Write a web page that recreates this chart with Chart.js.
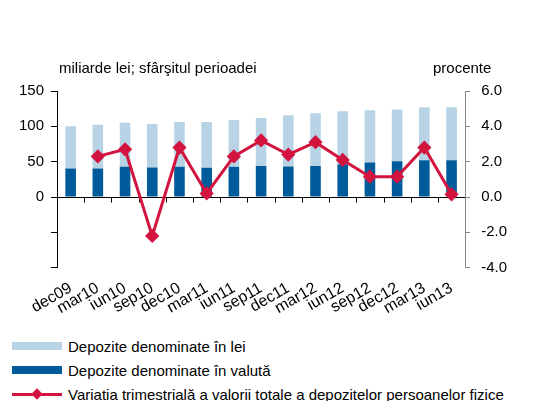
<!DOCTYPE html>
<html>
<head>
<meta charset="utf-8">
<script src="https://cdn.jsdelivr.net/npm/chart.js@4/dist/chart.umd.min.js"></script>
<style>
  body { margin: 0; background: #fff; font-family: Arial, "Liberation Sans", sans-serif; }
  #wrap { position: relative; width: 536px; height: 401px; overflow: hidden; }
  #box { position: absolute; left: 0; top: 0; width: 536px; height: 321px; }
  .ttl { position: absolute; top: 59px; font-size: 15px; color: #000; white-space: nowrap; }
  #legend { position: absolute; left: 12px; top: 334px; font-size: 15px; white-space: nowrap; }
  .item { height: 24px; display: flex; align-items: center; }
  .sw { width: 50px; height: 8px; margin-right: 6px; position: relative; }
  .ln { width: 50px; height: 3px; margin-right: 6px; position: relative; }
  .ln i { position: absolute; left: 21px; top: -3px; width: 8px; height: 8px; transform: rotate(45deg); }
</style>
</head>
<body>
<div id="wrap">
  <div id="box"><canvas id="c"></canvas></div>
  <div class="ttl" style="left:59px">miliarde lei; sfârşitul perioadei</div>
  <div class="ttl" style="left:433px">procente</div>
  <div id="legend"></div>
</div>
<script>
// quarters
const labels = ['dec09', 'mar10', 'iun10', 'sep10', 'dec10', 'mar11', 'iun11', 'sep11',
  'dec11', 'mar12', 'iun12', 'sep12', 'dec12', 'mar13', 'iun13'];

// deposits in foreign currency (bottom part), bn lei
const valuta = [40.5, 40.5, 42.9, 41.9, 42.9, 41.4, 42.9, 43.8, 43.3, 43.8, 46.2, 49.0, 50.5, 51.9, 51.9];
// deposits in lei (top part), bn lei
const lei = [59.5, 61.9, 62.3, 61.4, 63.3, 64.8, 66.1, 67.9, 72.4, 74.8, 75.2, 73.9, 73.3, 75.2, 75.2];
// quarterly change of total deposits, %
const variatia = [null, 2.3, 2.7, -2.2, 2.8, 0.2, 2.3, 3.2, 2.4, 3.1, 2.1, 1.15, 1.15, 2.8, 0.15];

const leftTicks = [-100, -50, 0, 50, 100, 150];
const rightTicks = [-4, -2, 0, 2, 4, 6];

const LIGHT = '#b7d3e5';
const DARK = '#005b9b';
const RED = '#d2143f';
const FONT = { family: 'Arial, "Liberation Sans", sans-serif', size: 15 };

// zero line with tick marks between categories
const zeroAxis = {
  id: 'zeroAxis',
  beforeDatasetsDraw(chart) {
    const { ctx, chartArea, scales } = chart;
    const y0 = Math.round(scales.y.getPixelForValue(0)) + 0.5;
    const x = scales.x;
    const step = x.getPixelForValue(1) - x.getPixelForValue(0);
    ctx.save();
    ctx.strokeStyle = '#000';
    ctx.lineWidth = 1;
    ctx.beginPath();
    ctx.moveTo(chartArea.left, y0);
    ctx.lineTo(chartArea.right, y0);
    for (let i = 1; i < labels.length; i++) {
      const xp = Math.round(x.getPixelForValue(i) - step / 2) + 0.5;
      ctx.moveTo(xp, y0);
      ctx.lineTo(xp, y0 + 5);
    }
    ctx.stroke();
    ctx.restore();
  }
};

const chart = new Chart(document.getElementById('c'), {
  type: 'bar',
  data: {
    labels: labels,
    datasets: [
      {
        type: 'line',
        label: 'Variatia trimestrială a valorii totale a depozitelor persoanelor fizice',
        data: variatia,
        yAxisID: 'y1',
        borderColor: RED,
        backgroundColor: RED,
        borderWidth: 3,
        pointStyle: 'rectRot',
        pointRadius: 5,
        pointHoverRadius: 5,
        tension: 0,
        order: 0
      },
      {
        label: 'Depozite denominate în valută',
        data: valuta,
        backgroundColor: DARK,
        stack: 's',
        yAxisID: 'y',
        barPercentage: 0.78,
        categoryPercentage: 0.5,
        order: 1
      },
      {
        label: 'Depozite denominate în lei',
        data: lei,
        backgroundColor: LIGHT,
        stack: 's',
        yAxisID: 'y',
        barPercentage: 0.78,
        categoryPercentage: 0.5,
        order: 1
      }
    ]
  },
  options: {
    responsive: true,
    maintainAspectRatio: false,
    animation: false,
    layout: { padding: { top: 91, left: 12, right: 18, bottom: 0 } },
    plugins: {
      legend: { display: false },
      tooltip: { enabled: false }
    },
    scales: {
      x: {
        stacked: true,
        grid: { display: false },
        border: { display: false },
        ticks: {
          color: '#000', font: { family: FONT.family, size: 16 }, autoSkip: false,
          minRotation: 30, maxRotation: 30, padding: 3
        }
      },
      y: {
        stacked: true,
        position: 'left',
        min: leftTicks[0],
        max: leftTicks[leftTicks.length - 1],
        afterBuildTicks: s => { s.ticks = leftTicks.map(v => ({ value: v })); },
        grid: { drawOnChartArea: false, drawTicks: true, tickLength: 6, color: '#000' },
        border: { color: '#000' },
        ticks: {
          color: '#000', font: FONT, padding: 7,
          callback: v => (v < 0 ? '' : v)
        }
      },
      y1: {
        position: 'right',
        min: rightTicks[0],
        max: rightTicks[rightTicks.length - 1],
        afterBuildTicks: s => { s.ticks = rightTicks.map(v => ({ value: v })); },
        grid: { drawOnChartArea: false, drawTicks: true, tickLength: 5, color: '#888' },
        border: { color: '#888' },
        ticks: {
          color: '#000', font: FONT, padding: 11,
          callback: v => Number(v).toFixed(1)
        }
      }
    }
  },
  plugins: [zeroAxis]
});

// legend in the original order: lei, valuta, line
const legend = document.getElementById('legend');
[2, 1, 0].forEach(i => {
  const ds = chart.data.datasets[i];
  const row = document.createElement('div');
  row.className = 'item';
  if (ds.type === 'line') {
    row.innerHTML = '<span class="ln" style="background:' + ds.borderColor + '"><i style="background:' +
      ds.borderColor + '"></i></span><span>' + ds.label + '</span>';
  } else {
    row.innerHTML = '<span class="sw" style="background:' + ds.backgroundColor + '"></span><span>' + ds.label + '</span>';
  }
  legend.appendChild(row);
});
</script>
</body>
</html>
